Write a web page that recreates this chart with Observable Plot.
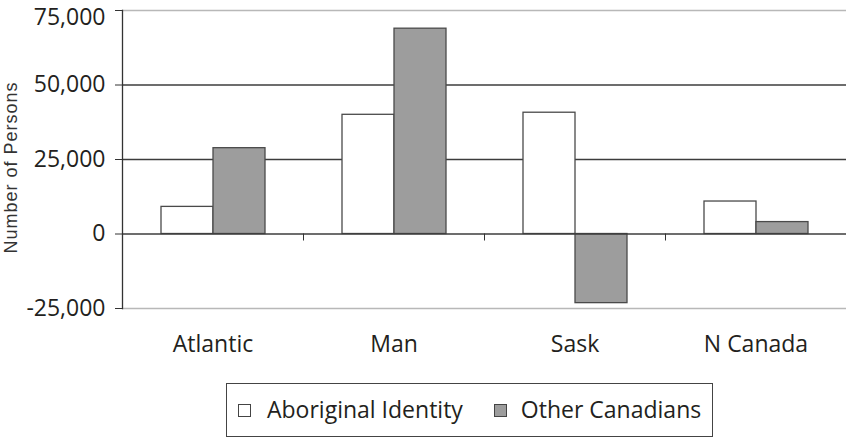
<!DOCTYPE html>
<html>
<head>
<meta charset="utf-8">
<script src="https://cdn.jsdelivr.net/npm/d3@7"></script>
<script src="https://cdn.jsdelivr.net/npm/@observablehq/plot@0.6"></script>
<style>
  html, body { margin: 0; padding: 0; background: #fff; }
  #wrap { position: relative; width: 846px; height: 437px; overflow: hidden; font-family: "Open Sans", sans-serif; color: #231f20; }
  #wrap svg { position: absolute; left: 0; top: 0; }
  .legend { position: absolute; left: 226px; top: 383px; width: 487px; height: 54px; box-sizing: border-box;
            border: 1px solid #444; display: flex; align-items: center; font-size: 23px; padding-bottom: 3px; }
  .sw { display: inline-block; width: 13px; height: 13px; border: 1px solid #444; box-sizing: border-box; margin-top: 3px; }
  .item { display: flex; align-items: center; }
</style>
</head>
<body>
<div id="wrap"></div>
<script>
const regions = ["Atlantic", "Man", "Sask", "N Canada"];
const seriesNames = ["Aboriginal Identity", "Other Canadians"];
const aboriginal = [9100, 40000, 40700, 10900];
const others = [28800, 68900, -23200, 4000];
const yTicks = [-25000, 0, 25000, 50000, 75000];
const seriesColors = ["#ffffff", "#9d9d9d"];
const yTitle = "Number of Persons";

const data = regions.flatMap((r, i) => [
  {region: r, series: seriesNames[0], value: aboriginal[i]},
  {region: r, series: seriesNames[1], value: others[i]}
]);

const W = 846, H = 356, ML = 122, MR = 0, MT = 10, MB = 48;
const fxStep = (W - ML - MR) / regions.length;
const innerH = H - MT - MB;
const zeroFromBottom = innerH * (0 - yTicks[0]) / (yTicks[4] - yTicks[0]);
const fmt = d => d3.format(",")(d).replace("\u2212", "-");

const chart = Plot.plot({
  width: W, height: H,
  marginLeft: ML, marginRight: MR, marginTop: MT, marginBottom: MB,
  style: {fontFamily: "'Open Sans', sans-serif", color: "#231f20", background: "#fff", overflow: "visible"},
  fx: {domain: regions, padding: 0, label: null, axis: null},
  x: {domain: seriesNames, paddingInner: 0, paddingOuter: 0.724, axis: null},
  y: {domain: [yTicks[0], yTicks[4]], axis: null},
  color: {domain: seriesNames, range: seriesColors},
  marks: [
    Plot.ruleY([yTicks[0], yTicks[4]], {stroke: "#b8b8b8", strokeWidth: 1.5}),
    Plot.ruleY([yTicks[2], yTicks[3]], {stroke: "#3c3c3c", strokeWidth: 1.3}),
    Plot.barY(data, {fx: "region", x: "series", y: "value", fill: "series", stroke: "#4a4a4a", strokeWidth: 1.3}),
    Plot.ruleY([0], {stroke: "#3c3c3c", strokeWidth: 1.3}),
    Plot.frame({anchor: "left", facetAnchor: "left", stroke: "#333", strokeWidth: 1.3}),
    Plot.axisFx({anchor: "bottom", tickSize: 7, tickFormat: () => "", dx: -fxStep / 2, dy: -zeroFromBottom, stroke: "#333", label: null}),
    Plot.axisFx({anchor: "bottom", tickSize: 0, tickPadding: 27, fontSize: 23, label: null, fill: "#231f20"}),
    Plot.axisY(yTicks.slice(0, 4), {anchor: "left", tickSize: 7, tickPadding: 10, fontSize: 23, tickFormat: fmt, label: null, stroke: "#333", fill: "#231f20"}),
    Plot.axisY(yTicks.slice(4), {anchor: "left", tickSize: 7, tickPadding: 10, fontSize: 23, tickFormat: fmt, label: null, stroke: "#333", fill: "#231f20", textStroke: "none"}),
    Plot.text([yTitle], {text: d => d, frameAnchor: "left", facetAnchor: "left", textAnchor: "middle", rotate: -90, dx: -111, dy: 8,
      fontSize: 18, fontFamily: "'Liberation Sans', Arial, sans-serif", fill: "#333"})
  ]
});

const wrap = document.getElementById("wrap");
wrap.appendChild(chart);

// nudge the top tick label down so it stays inside the picture, as in the reference
d3.select(chart).selectAll("text").each(function() {
  const t = this.textContent;
  if (t === fmt(yTicks[4])) this.setAttribute("transform", (this.getAttribute("transform") || "") + " translate(0,7)");
  if (t === yTitle) this.style.letterSpacing = "1px";
});

const legend = document.createElement("div");
legend.className = "legend";
seriesNames.forEach((name, i) => {
  const item = document.createElement("div");
  item.className = "item";
  item.style.marginLeft = i === 0 ? "11px" : "31px";
  const sw = document.createElement("span");
  sw.className = "sw";
  sw.style.background = seriesColors[i];
  const label = document.createElement("span");
  label.textContent = name;
  label.style.marginLeft = i === 0 ? "16px" : "14px";
  item.appendChild(sw);
  item.appendChild(label);
  legend.appendChild(item);
});
wrap.appendChild(legend);
</script>
</body>
</html>
